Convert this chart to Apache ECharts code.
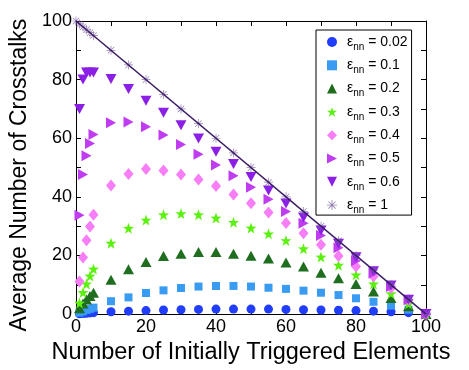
<!DOCTYPE html>
<html><head><meta charset="utf-8">
<script src="https://cdn.jsdelivr.net/npm/echarts@6/dist/echarts.min.js"></script>
<style>html,body{margin:0;padding:0;background:#fff}#c{width:469px;height:370px}</style>
</head><body><div id="c"></div>
<script>
// x positions (number of initially triggered elements)
const xs = [1,2,3,4,5,10,15,20,25,30,35,40,45,50,55,60,65,70,75,80,85,90,95,100];
const eps002 = [0.1,0.2,0.3,0.4,0.5,0.8,1.0,1.2,1.4,1.5,1.6,1.7,1.7,1.7,1.7,1.6,1.5,1.4,1.3,1.2,1.0,0.8,0.5,0];
const eps01  = [0.5,0.9,1.4,1.8,2.2,4.4,5.7,7.2,8.1,8.9,9.4,9.6,9.6,9.4,9.0,8.6,8.0,7.3,6.5,5.4,4.2,2.9,1.5,0];
const eps02  = [2.0,3.6,5.0,6.2,7.3,11.7,15.3,17.8,19.8,20.6,21.2,21.2,20.6,19.9,19.0,17.6,16.2,14.1,12.2,10.3,7.7,5.5,2.7,0];
const eps03  = [3.8,7.4,10.3,13.0,15.4,24.2,29.3,32.1,33.9,34.3,33.9,32.8,31.3,29.4,27.4,25.1,22.3,19.5,16.7,13.4,10.3,7.0,3.5,0];
const eps04  = [11.1,19.3,25.2,29.9,33.9,43.9,47.8,49.5,49.0,47.6,45.9,43.7,40.8,37.8,34.7,31.1,27.6,23.7,19.8,16.2,12.8,8.9,4.8,0];
const eps05  = [33.7,47.6,54.0,58.2,61.3,65.3,65.5,63.9,61.1,57.9,54.5,50.9,47.2,43.3,39.2,35.0,31.0,26.8,22.6,18.2,13.9,9.4,4.9,0];
const eps06  = [70.0,80.0,82.4,82.4,82.4,80.2,76.8,72.8,68.7,64.4,59.9,55.4,51.2,46.8,42.2,37.7,33.0,28.5,24.0,19.4,14.6,9.8,4.9,0];
const xs1    = [0,1,2,3,4,5,10,15,20,25,30,35,40,45,50,55,60,65,70,75,80,85,90,95,100];
const eps1   = [100,99,98,97,96,95,90,85,80,75,70,65,60,55,50,45,40,35,30,25,20,15,10,5,0];
const lineX = [0,100];
const lineY = [100,0];
const seriesNames = ['0.02','0.1','0.2','0.3','0.4','0.5','0.6','1'];
const xTicks = [0,20,40,60,80,100];
const yTicks = [0,20,40,60,80,100];

const FONT = 'Liberation Sans, Arial, Helvetica, sans-serif';
const STAR = 'path://M10,0 L12.35,6.76 L19.51,6.91 L13.8,11.24 L15.88,18.09 L10,14 L4.12,18.09 L6.2,11.24 L0.49,6.91 L7.65,6.76 Z';
const RTRI = 'path://M0,0 L10,5 L0,10 Z';
const DTRI = 'path://M0,0 L10,0 L5,10 Z';
const AST = 'path://M9.2,0 L10.8,0 L10.8,20 L9.2,20 Z M0,9.2 L20,9.2 L20,10.8 L0,10.8 Z M3.47,2.33 L17.67,16.53 L16.53,17.67 L2.33,3.47 Z M17.67,3.47 L3.47,17.67 L2.33,16.53 L16.53,2.33 Z';

const pairs = (xa, ya) => xa.map((x, i) => [x, ya[i]]);
const styles = [
  {d: eps002, sym: 'circle', size: 9, color: '#1f3dfa'},
  {d: eps01, sym: 'rect', size: 8, color: '#3a9bf2'},
  {d: eps02, sym: 'triangle', size: [11,10], color: '#1f6e1f'},
  {d: eps03, sym: STAR, size: [11,11], color: '#5cf00f'},
  {d: eps04, sym: 'diamond', size: [10,12], color: '#f77ef7'},
  {d: eps05, sym: RTRI, size: [10,11], color: '#c03cf0'},
  {d: eps06, sym: DTRI, size: [11,10], color: '#8c1fe6'},
];
const series = styles.map((s, i) => ({
  name: seriesNames[i], type: 'scatter', symbol: s.sym, symbolSize: s.size,
  itemStyle: {color: s.color, opacity: 1}, data: pairs(xs, s.d), z: 2 + i
}));
series.push({name: seriesNames[7], type: 'scatter', symbol: AST, symbolSize: 9,
  itemStyle: {color: '#7b5f9e'}, data: pairs(xs1, eps1), z: 10});
series.push({name: 'line', type: 'line', data: pairs(lineX, lineY), showSymbol: false, symbol: 'none',
  lineStyle: {color: '#3b1d66', width: 1.5}, z: 11, silent: true});

const axisCommon = {
  type: 'value', min: 0, max: 100, interval: 10,
  axisLine: {show: true, onZero: false, lineStyle: {color: '#000', width: 1}},
  axisTick: {show: true, inside: true, length: 5, lineStyle: {color: '#000', width: 1}},
  splitLine: {show: false}
};
const tickFmt = (ticks) => (v) => ticks.indexOf(v) >= 0 ? String(v) : '';

const option = {
  animation: false,
  backgroundColor: '#fff',
  grid: {left: 76, right: 43, top: 21, bottom: 52, containLabel: false},
  xAxis: [
    Object.assign({}, axisCommon, {position: 'bottom',
      axisLabel: {formatter: tickFmt(xTicks), color: '#000', fontSize: 18, fontFamily: FONT, margin: 4},
      name: 'Number of Initially Triggered Elements', nameLocation: 'middle', nameGap: 21,
      nameTextStyle: {color: '#000', fontSize: 23.5, fontFamily: FONT}}),
    Object.assign({}, axisCommon, {position: 'top', axisLabel: {show: false}})
  ],
  yAxis: [
    Object.assign({}, axisCommon, {position: 'left',
      axisLabel: {formatter: tickFmt(yTicks), color: '#000', fontSize: 18, fontFamily: FONT, margin: 4},
      name: 'Average Number of Crosstalks', nameLocation: 'middle', nameGap: 44,
      nameTextStyle: {color: '#000', fontSize: 23, fontFamily: FONT, padding: [0, 15, 0, 0]}}),
    Object.assign({}, axisCommon, {position: 'right', axisLabel: {show: false}})
  ],
  legend: {
    data: seriesNames, orient: 'vertical', left: 316, top: 30,
    itemWidth: 10, itemHeight: 10, itemGap: 6.3,
    padding: [5, 4, 0, 11],
    backgroundColor: '#fff', borderColor: '#000', borderWidth: 1, borderRadius: 0,
    formatter: (name) => '{e|ε}{s|nn}{t| = ' + name + '}',
    textStyle: {
      fontFamily: FONT, color: '#000',
      rich: {
        e: {fontSize: 14, lineHeight: 20, fontFamily: FONT, color: '#000', padding: [0, 0, 0, 5]},
        s: {fontSize: 10, lineHeight: 8, verticalAlign: 'bottom', fontFamily: FONT, color: '#000'},
        t: {fontSize: 14, lineHeight: 20, fontFamily: FONT, color: '#000'}
      }
    }
  },
  series: series
};
const chart = echarts.init(document.getElementById('c'), null, {renderer: 'canvas'});
chart.setOption(option);
</script></body></html>
